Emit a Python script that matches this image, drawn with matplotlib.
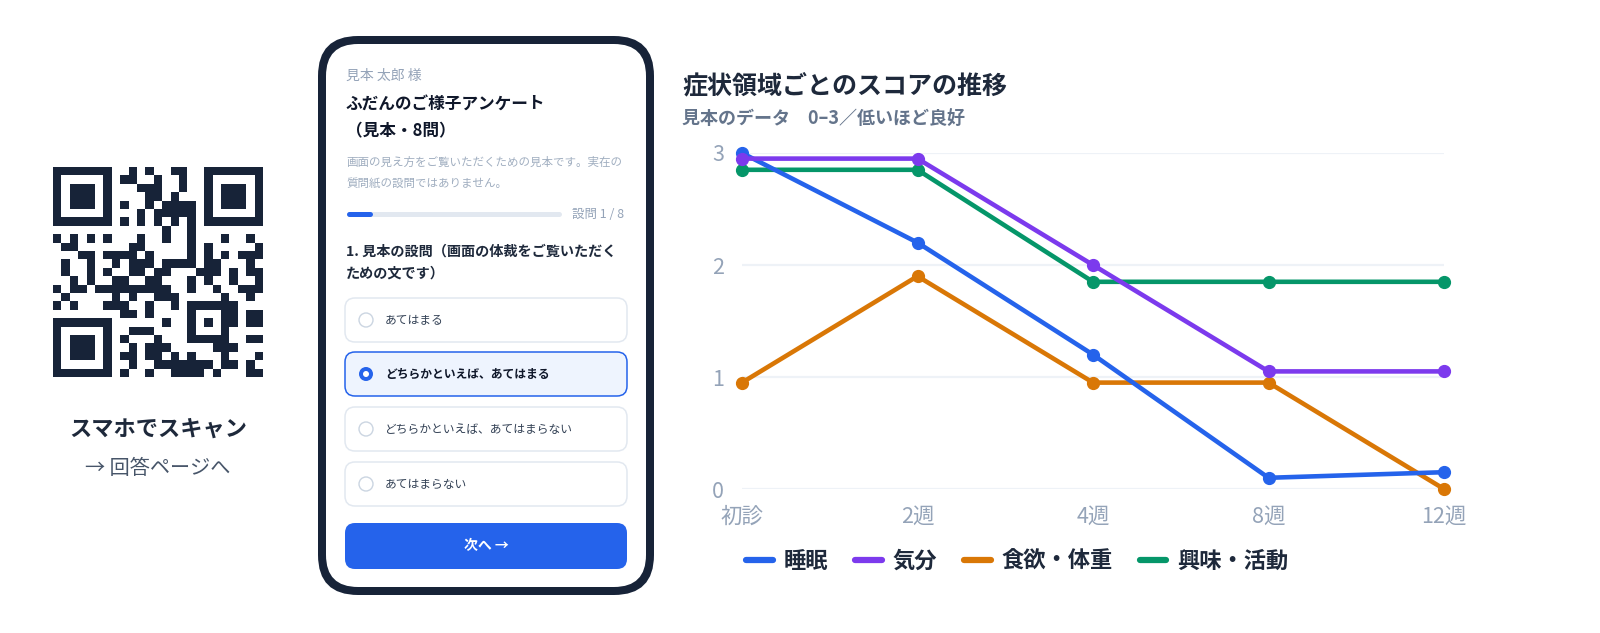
import numpy as np
import matplotlib
matplotlib.use("Agg")
import matplotlib.pyplot as plt
from matplotlib.patches import FancyBboxPatch, Circle
from matplotlib.lines import Line2D
from matplotlib.colors import ListedColormap

plt.rcParams['font.family'] = ['Noto Sans CJK JP', 'DejaVu Sans']

# ---------------- data ----------------
time_labels = ['初診', '2週', '4週', '8週', '12週']
series_names = ['睡眠', '気分', '食欲・体重', '興味・活動']
sleep = [3.0, 2.2, 1.2, 0.1, 0.15]
mood = [2.95, 2.95, 2.0, 1.05, 1.05]
appetite = [0.95, 1.9, 0.95, 0.95, 0.0]
interest = [2.85, 2.85, 1.85, 1.85, 1.85]
y_ticks = [0, 1, 2, 3]

chart_title = '症状領域ごとのスコアの推移'
chart_subtitle = '見本のデータ　0–3／低いほど良好'

qr_caption = 'スマホでスキャン'
qr_link = '→ 回答ページへ'

survey_user = '見本 太郎 様'
survey_title = ['ふだんのご様子アンケート', '（見本・8問）']
survey_note = ['画面の見え方をご覧いただくための見本です。実在の', '質問紙の設問ではありません。']
survey_progress = '設問 1 / 8'
progress_fraction = 1 / 8
survey_question = ['1. 見本の設問（画面の体裁をご覧いただく', 'ための文です）']
survey_options = ['あてはまる', 'どちらかといえば、あてはまる',
                  'どちらかといえば、あてはまらない', 'あてはまらない']
selected_option = 1
next_button = '次へ →'

# QR code: dark module columns per row (25 x 25)
qr_rows = [
    [0, 1, 2, 3, 4, 5, 6, 9, 11, 14, 15, 18, 19, 20, 21, 22, 23, 24],
    [0, 6, 8, 9, 12, 15, 18, 24],
    [0, 2, 3, 4, 6, 10, 11, 12, 15, 18, 20, 21, 22, 24],
    [0, 2, 3, 4, 6, 11, 12, 14, 18, 20, 21, 22, 24],
    [0, 2, 3, 4, 6, 8, 11, 13, 14, 15, 16, 18, 20, 21, 22, 24],
    [0, 6, 10, 12, 13, 14, 15, 16, 18, 24],
    [0, 1, 2, 3, 4, 5, 6, 8, 10, 12, 14, 16, 18, 19, 20, 21, 22, 23, 24],
    [13, 16],
    [0, 2, 4, 6, 10, 13, 16, 20, 23],
    [1, 2, 9, 10, 16, 18, 24],
    [3, 4, 6, 7, 8, 9, 11, 16, 18, 20, 22, 23, 24],
    [1, 4, 7, 9, 10, 11, 13, 14, 15, 16, 18, 19, 23],
    [1, 4, 6, 9, 10, 12, 13, 17, 18, 19, 21, 23, 24],
    [2, 4, 7, 8, 11, 12, 16, 18, 21, 24],
    [0, 2, 3, 5, 6, 7, 8, 9, 10, 11, 12, 13, 16, 19, 22, 23, 24],
    [1, 7, 9, 12, 13, 14, 20, 23],
    [0, 2, 6, 7, 8, 11, 14, 16, 17, 18, 19, 20, 21],
    [8, 9, 11, 16, 20, 21, 23, 24],
    [0, 1, 2, 3, 4, 5, 6, 13, 16, 18, 20, 21, 23, 24],
    [0, 6, 9, 10, 11, 16, 20],
    [0, 2, 3, 4, 6, 8, 12, 16, 17, 18, 19, 20, 23, 24],
    [0, 2, 3, 4, 6, 9, 11, 12, 13, 19, 20, 21],
    [0, 2, 3, 4, 6, 8, 9, 11, 12, 14, 16, 20, 24],
    [0, 6, 9, 12, 13, 14, 15, 16, 17, 18, 20, 21, 23],
    [0, 1, 2, 3, 4, 5, 6, 8, 11, 14, 15, 16, 17, 19, 23, 24],
]

# ---------------- styles ----------------
W, H = 1600, 633
NAVY = '#172338'
DARK = '#1e293b'
BLUE = '#2563eb'
colors = ['#2563eb', '#7c3aed', '#d97706', '#059669']
zorders = [4, 5, 3, 3.5]

fig = plt.figure(figsize=(W / 100, H / 100), dpi=100)
fig.patch.set_facecolor('white')

# background / decoration axes in pixel coordinates
bg = fig.add_axes([0, 0, 1, 1])
bg.axis('off')

# ---- QR code ----
qr = np.zeros((25, 25))
for r, cols in enumerate(qr_rows):
    for c in cols:
        qr[r, c] = 1
bg.imshow(qr, cmap=ListedColormap(['white', NAVY]), extent=(53, 263, 377, 167),
          interpolation='nearest', aspect='auto', zorder=2)
bg.set_xlim(0, W)
bg.set_ylim(H, 0)
bg.text(158, 429, qr_caption, ha='center', va='center', fontsize=16,
        fontweight='bold', color=DARK)
bg.text(158, 468, qr_link, ha='center', va='center', fontsize=14.5,
        color='#475569')

# ---- phone mockup ----
bg.add_patch(FancyBboxPatch((318, 36), 336, 559,
                            boxstyle='round,pad=0,rounding_size=40',
                            fc=NAVY, ec='none', zorder=1))
bg.add_patch(FancyBboxPatch((326, 44), 320, 543,
                            boxstyle='round,pad=0,rounding_size=32',
                            fc='white', ec='none', zorder=1.5))
x0 = 346
bg.text(x0, 76, survey_user, ha='left', va='center', fontsize=10, color='#94a3b8')
bg.text(x0, 104, survey_title[0], ha='left', va='center', fontsize=12,
        fontweight='bold', color='#0f172a')
bg.text(x0, 131, survey_title[1], ha='left', va='center', fontsize=12,
        fontweight='bold', color='#0f172a')
bg.text(x0, 162, survey_note[0], ha='left', va='center', fontsize=8.3, color='#a0aec0')
bg.text(x0, 183, survey_note[1], ha='left', va='center', fontsize=8.3, color='#a0aec0')
# progress bar
bar_l, bar_r, bar_y = 346, 561, 214
bg.plot([bar_l + 2.5, bar_r - 2.5], [bar_y, bar_y], color='#e2e8f0', lw=3.6,
        solid_capstyle='round', zorder=3)
bg.plot([bar_l + 2.5, bar_l + (bar_r - bar_l) * progress_fraction - 2.5], [bar_y, bar_y],
        color=BLUE, lw=3.6, solid_capstyle='round', zorder=4)
bg.text(572, bar_y, survey_progress, ha='left', va='center', fontsize=9, color='#94a3b8')
bg.text(x0, 252, survey_question[0], ha='left', va='center', fontsize=10.2,
        fontweight='bold', color=DARK)
bg.text(x0, 274, survey_question[1], ha='left', va='center', fontsize=10.2,
        fontweight='bold', color=DARK)
# options
opt_tops = [298, 352, 407, 462]
opt_h = 44
for i, (label, top) in enumerate(zip(survey_options, opt_tops)):
    sel = (i == selected_option)
    bg.add_patch(FancyBboxPatch((345, top), 282, opt_h,
                                boxstyle='round,pad=0,rounding_size=10',
                                fc='#eef4fe' if sel else 'white',
                                ec=BLUE if sel else '#e2e8f0', lw=1.1, zorder=3))
    cy = top + opt_h / 2
    if sel:
        bg.add_patch(Circle((366, cy), 7, fc=BLUE, ec='none', zorder=4))
        bg.add_patch(Circle((366, cy), 3, fc='white', ec='none', zorder=5))
    else:
        bg.add_patch(Circle((366, cy), 7, fc='white', ec='#cbd5e1', lw=1.0, zorder=4))
    bg.text(385, cy, label, ha='left', va='center', fontsize=8.5,
            fontweight='bold' if sel else 'normal',
            color='#0f172a' if sel else '#334155', zorder=5)
# button
bg.add_patch(FancyBboxPatch((345, 523), 282, 46,
                            boxstyle='round,pad=0,rounding_size=10',
                            fc=BLUE, ec='none', zorder=3))
bg.text(486, 546, next_button, ha='center', va='center', fontsize=10,
        fontweight='bold', color='white', zorder=4)

# ---- chart titles ----
bg.text(682, 87, chart_title, ha='left', va='center', fontsize=18,
        fontweight='bold', color=DARK)
bg.text(682, 118, chart_subtitle, ha='left', va='center', fontsize=13,
        fontweight='bold', color='#64748b')

# ---------------- line chart ----------------
ax_l, ax_r, ax_t, ax_b = 742, 1444, 153, 489
ax = fig.add_axes([ax_l / W, 1 - ax_b / H, (ax_r - ax_l) / W, (ax_b - ax_t) / H])
ax.set_facecolor('none')
x = np.arange(len(time_labels))
all_series = [sleep, mood, appetite, interest]
for vals, col, z in zip(all_series, colors, zorders):
    ax.plot(x, vals, color=col, lw=3.3, marker='o', ms=8.5, mec=col, mfc=col,
            clip_on=False, zorder=z, solid_joinstyle='round')
ax.set_xlim(0, len(time_labels) - 1)
ax.set_ylim(0, 3)
ax.set_yticks(y_ticks)
ax.set_yticklabels([str(t) for t in y_ticks])
ax.set_xticks(x)
ax.set_xticklabels(time_labels)
ax.grid(axis='y', color='#eef2f7', lw=1.6, zorder=0)
ax.set_axisbelow(True)
for s in ax.spines.values():
    s.set_visible(False)
ax.tick_params(axis='both', length=0, labelsize=15.5, labelcolor='#94a3b8')
ax.tick_params(axis='y', pad=13)
ax.tick_params(axis='x', pad=12)

handles = [Line2D([], [], color=c, lw=4.5, solid_capstyle='round') for c in colors]
leg = fig.legend(handles, series_names, loc='center left',
                 bbox_to_anchor=(746 / W, 1 - 561 / H), ncol=4, frameon=False,
                 borderpad=0, borderaxespad=0, handlelength=1.2, handletextpad=0.5,
                 columnspacing=1.2, prop={'size': 16, 'weight': 'bold'})
for t in leg.get_texts():
    t.set_color(DARK)

fig.savefig('out.png', dpi=100, facecolor='white')
